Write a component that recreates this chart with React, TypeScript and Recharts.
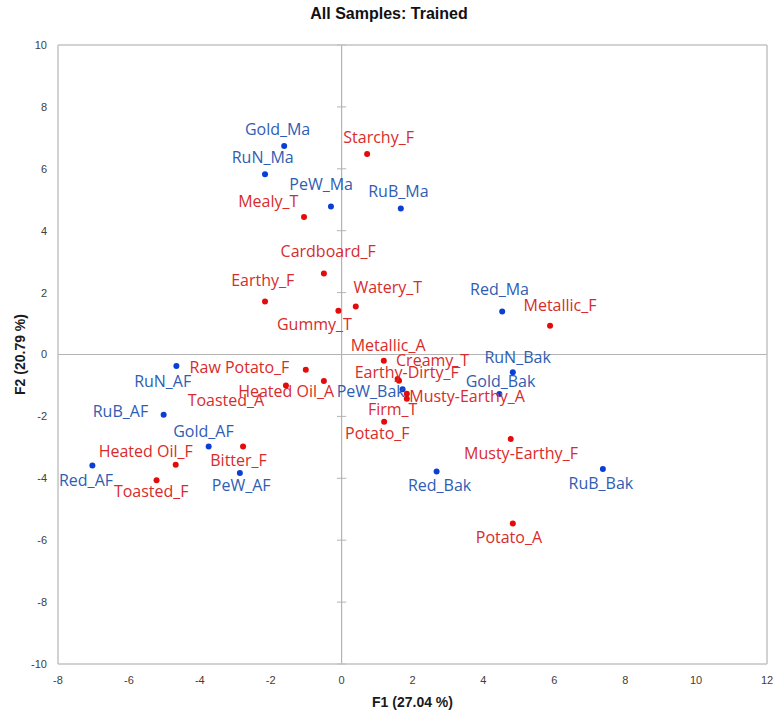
import React from 'react';
import { ScatterChart, Scatter, XAxis, YAxis, ReferenceLine } from 'recharts';

const xTicks = [-8, -6, -4, -2, 0, 2, 4, 6, 8, 10, 12];
const yTicks = [-10, -8, -6, -4, -2, 0, 2, 4, 6, 8, 10];

const obsNames = ['Gold_Ma', 'RuN_Ma', 'PeW_Ma', 'RuB_Ma', 'Red_Ma', 'RuN_Bak', 'Gold_Bak', 'PeW_Bak', 'Red_Bak', 'RuB_Bak', 'RuN_AF', 'RuB_AF', 'Gold_AF', 'PeW_AF', 'Red_AF'];
const obsF1 = [-1.62, -2.16, -0.30, 1.67, 4.53, 4.83, 4.45, 1.72, 2.68, 7.37, -4.66, -5.02, -3.75, -2.87, -7.03];
const obsF2 = [6.74, 5.82, 4.78, 4.72, 1.39, -0.57, -1.28, -1.12, -3.78, -3.70, -0.37, -1.95, -2.97, -3.83, -3.59];

const varNames = ['Starchy_F', 'Mealy_T', 'Cardboard_F', 'Earthy_F', 'Gummy_T', 'Watery_T', 'Metallic_F', 'Metallic_A', 'Creamy_T', 'Earthy-Dirty_F', 'Musty-Earthy_A', 'Firm_T', 'Potato_F', 'Raw Potato_F', 'Heated Oil_A', 'Toasted_A', 'Heated Oil_F', 'Toasted_F', 'Bitter_F', 'Musty-Earthy_F', 'Potato_A'];
const varF1 = [0.72, -1.06, -0.50, -2.16, -0.09, 0.40, 5.88, 1.19, 1.58, 1.62, 1.84, 1.84, 1.20, -1.01, -0.50, -1.57, -4.68, -5.22, -2.78, 4.77, 4.83];
const varF2 = [6.48, 4.44, 2.62, 1.71, 1.41, 1.55, 0.93, -0.20, -0.79, -0.85, -1.27, -1.43, -2.17, -0.49, -0.86, -1.00, -3.56, -4.06, -2.97, -2.73, -5.46];

// label placement (pixel offsets of label centre / baseline from its point)
const labelOffsets: Record<string, [number, number]> = {
  Gold_Ma: [-6.6, -11], RuN_Ma: [-2.3, -11], PeW_Ma: [-9.8, -16.7], RuB_Ma: [-2.4, -11.6],
  Red_Ma: [-2.7, -16], RuN_Bak: [4.8, -9.6], Gold_Bak: [1.2, -7], PeW_Bak: [-31.9, 7.4],
  Red_Bak: [3, 20], RuB_Bak: [-2, 20], RuN_AF: [-13.7, 20.7], RuB_AF: [-43.2, 1.7],
  Gold_AF: [-5.2, -9.4], PeW_AF: [1.3, 18.4], Red_AF: [-6.4, 20],
  Starchy_F: [11.5, -11.3], Mealy_T: [-35.8, -10.3], Cardboard_F: [4.3, -16.6], Earthy_F: [-2.3, -16],
  Gummy_T: [-24, 19], Watery_T: [32, -14], Metallic_F: [10, -15], Metallic_A: [4.3, -10],
  Creamy_T: [35, -13], 'Earthy-Dirty_F': [7.7, -3.3], 'Musty-Earthy_A': [60.3, 8.3], Firm_T: [-14.2, 16],
  Potato_F: [-6.8, 17.5], 'Raw Potato_F': [-66.3, 3.6], 'Heated Oil_A': [-37.7, 15.4], Toasted_A: [-60, 21],
  'Heated Oil_F': [-30, -7.7], Toasted_F: [-5.3, 16.4], Bitter_F: [-4.5, 19.3], 'Musty-Earthy_F': [10.3, 20],
  Potato_A: [-3.9, 19.6],
};

const obsData = obsNames.map((name, i) => ({ name, x: obsF1[i], y: obsF2[i] }));
const varData = varNames.map((name, i) => ({ name, x: varF1[i], y: varF2[i] }));

const FRAME = '#c3c3c3';
const ZERO = '#b4b4b4';
const LABEL_FONT = '"Open Sans", "Noto Sans", sans-serif';

const makeShape = (dotColor: string, textColor: string) => (props: any) => {
  const { cx, cy, payload } = props;
  const off = labelOffsets[payload.name] || [0, -10];
  return (
    <g>
      <circle cx={cx} cy={cy} r={3} fill={dotColor} />
      <text
        x={cx + off[0]}
        y={cy + off[1]}
        textAnchor="middle"
        fill={textColor}
        fontFamily={LABEL_FONT}
        fontSize={16}
      >
        {payload.name}
      </text>
    </g>
  );
};

const xLabel = (props: any) => {
  const vb = props.viewBox || {};
  return (
    <text x={vb.x + vb.width / 2} y={vb.y + 43} textAnchor="middle" fontFamily="Liberation Sans, Arial, sans-serif" fontWeight="bold" fontSize={14} fill="#1a1a1a">
      F1 (27.04 %)
    </text>
  );
};

const yLabel = (props: any) => {
  const vb = props.viewBox || {};
  const cx = 25;
  const cy = vb.y + vb.height / 2;
  return (
    <text x={cx} y={cy} textAnchor="middle" transform={`rotate(-90, ${cx}, ${cy})`} fontFamily="Liberation Sans, Arial, sans-serif" fontWeight="bold" fontSize={14} fill="#1a1a1a">
      F2 (20.79 %)
    </text>
  );
};

const tickStyle = { fontFamily: 'Liberation Sans, Arial, sans-serif', fontSize: 11, fill: '#404040' };

export default function App() {
  return (
    <div style={{ position: 'absolute', left: 0, top: 0, width: 775, height: 713, background: '#fff' }}>
      <div
        style={{
          position: 'absolute',
          left: 0,
          top: 4,
          width: 778,
          textAlign: 'center',
          fontFamily: 'Liberation Sans, Arial, sans-serif',
          fontWeight: 'bold',
          fontSize: 16,
          color: '#111',
          lineHeight: '20px',
        }}
      >
        All Samples: Trained
      </div>
      <ScatterChart width={775} height={713} margin={{ top: 45, right: 8, bottom: 0, left: 0 }}>
        <XAxis
          type="number"
          dataKey="x"
          domain={[-8, 12]}
          ticks={xTicks}
          allowDataOverflow
          axisLine={false}
          tickLine={false}
          tickSize={0}
          tickMargin={12}
          height={49}
          tick={tickStyle}
          label={xLabel}
        />
        <YAxis
          type="number"
          dataKey="y"
          domain={[-10, 10]}
          ticks={yTicks}
          allowDataOverflow
          axisLine={false}
          tickLine={false}
          tickSize={0}
          tickMargin={11}
          width={58}
          tick={tickStyle}
          label={yLabel}
        />
        <ReferenceLine x={0} stroke={ZERO} strokeWidth={1.2} />
        <ReferenceLine y={0} stroke={ZERO} strokeWidth={1.2} />
        {yTicks.map((t) => (
          <ReferenceLine key={'t' + t} segment={[{ x: -0.13, y: t }, { x: 0.13, y: t }]} stroke={ZERO} strokeWidth={1} />
        ))}
        <ReferenceLine x={-8} stroke={FRAME} strokeWidth={1.5} />
        <ReferenceLine x={12} stroke={FRAME} strokeWidth={1.5} />
        <ReferenceLine y={-10} stroke={FRAME} strokeWidth={1.5} />
        <ReferenceLine y={10} stroke={FRAME} strokeWidth={1.5} />
        <Scatter data={obsData} isAnimationActive={false} shape={makeShape('#0b3fd4', '#2f5db3')} />
        <Scatter data={varData} isAnimationActive={false} shape={makeShape('#e30b0b', '#d92b2b')} />
      </ScatterChart>
    </div>
  );
}
